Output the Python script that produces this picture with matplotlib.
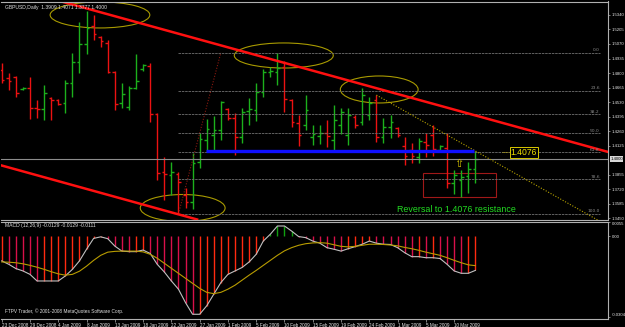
import numpy as np
import matplotlib.pyplot as plt
from matplotlib.patches import Ellipse, Rectangle

symbol_info = "GBPUSD,Daily  1.3909 1.4071 1.3777 1.4000"
macd_info = "MACD (12,26,9) -0.0129 -0.0129 -0.0111"
footer = "FTPV Trader, \u00a9 2001-2008 MetaQuotes Software Corp."
note = "Reversal to 1.4076 resistance"

# daily OHLC, GBPUSD 23 Dec 2008 .. 13 Mar 2009
opens = [1.4828, 1.4754, 1.4763, 1.4651, 1.4661, 1.4475, 1.4465, 1.4568, 1.4549, 1.4521,
         1.4707, 1.4902, 1.5070, 1.5237, 1.5135, 1.5079, 1.4809, 1.4521, 1.4484, 1.4661,
         1.4837, 1.4865, 1.4419, 1.3879, 1.3852, 1.3861, 1.3666, 1.3600, 1.3972, 1.4177,
         1.4224, 1.4270, 1.4465, 1.4382, 1.4205, 1.4447, 1.4456, 1.4623, 1.4809, 1.4809,
         1.4856, 1.4549, 1.4335, 1.4317, 1.4205, 1.4214, 1.4242, 1.4177, 1.4317, 1.4224,
         1.4391, 1.4344, 1.4410, 1.4549, 1.4205, 1.4298, 1.4289, 1.4121, 1.4084, 1.4019,
         1.4158, 1.4224, 1.4084, 1.4103, 1.3777, 1.3805, 1.3842, 1.3909]
highs = [1.4893, 1.4800, 1.4772, 1.4670, 1.4763, 1.4549, 1.4689, 1.4577, 1.4558, 1.4735,
         1.4986, 1.5274, 1.5377, 1.5340, 1.5144, 1.5107, 1.4819, 1.4707, 1.4679, 1.4977,
         1.4884, 1.4893, 1.4428, 1.4019, 1.3972, 1.3879, 1.3731, 1.4056, 1.4242, 1.4372,
         1.4400, 1.4540, 1.4475, 1.4428, 1.4475, 1.4568, 1.4707, 1.4837, 1.4856, 1.4986,
         1.4912, 1.4558, 1.4410, 1.4595, 1.4317, 1.4317, 1.4363, 1.4502, 1.4475, 1.4475,
         1.4410, 1.4661, 1.4577, 1.4595, 1.4382, 1.4410, 1.4298, 1.4205, 1.4149, 1.4196,
         1.4242, 1.4317, 1.4130, 1.4242, 1.3898, 1.3898, 1.3972, 1.4071]
lows = [1.4707, 1.4642, 1.4577, 1.4642, 1.4372, 1.4382, 1.4363, 1.4363, 1.4502, 1.4428,
        1.4577, 1.4800, 1.4977, 1.5107, 1.5042, 1.4800, 1.4456, 1.4475, 1.4456, 1.4651,
        1.4819, 1.4344, 1.3805, 1.3619, 1.3666, 1.3498, 1.3545, 1.3535, 1.3917, 1.4065,
        1.4065, 1.4177, 1.4363, 1.4037, 1.4149, 1.4317, 1.4354, 1.4577, 1.4763, 1.4689,
        1.4437, 1.4298, 1.4121, 1.4270, 1.4130, 1.4140, 1.4112, 1.4084, 1.4233, 1.4130,
        1.4289, 1.4317, 1.4363, 1.4158, 1.4149, 1.4196, 1.4205, 1.3944, 1.3963, 1.3963,
        1.4019, 1.4028, 1.4065, 1.3731, 1.3675, 1.3647, 1.3684, 1.3777]
closes = [1.4735, 1.4726, 1.4614, 1.4661, 1.4475, 1.4465, 1.4614, 1.4549, 1.4512, 1.4707,
          1.4902, 1.5070, 1.5219, 1.5163, 1.5098, 1.4809, 1.4512, 1.4605, 1.4661, 1.4726,
          1.4875, 1.4419, 1.3870, 1.3861, 1.3879, 1.3786, 1.3600, 1.3963, 1.4186, 1.4279,
          1.4270, 1.4530, 1.4382, 1.4205, 1.4437, 1.4465, 1.4623, 1.4809, 1.4819, 1.4847,
          1.4558, 1.4344, 1.4224, 1.4456, 1.4233, 1.4242, 1.4214, 1.4363, 1.4437, 1.4410,
          1.4317, 1.4595, 1.4521, 1.4205, 1.4298, 1.4344, 1.4224, 1.4028, 1.4028, 1.4168,
          1.4130, 1.4093, 1.4121, 1.3777, 1.3852, 1.3833, 1.3907, 1.4000]

macd_main = [-0.0093, -0.0106, -0.0122, -0.0131, -0.0144, -0.0169, -0.0169, -0.0169, -0.0169, -0.0150,
             -0.0125, -0.0093, -0.0049, -0.0008, -0.0002, -0.0009, -0.0037, -0.0056, -0.0058, -0.0058,
             -0.0052, -0.0065, -0.0106, -0.0135, -0.0169, -0.0200, -0.0251, -0.0295, -0.0295, -0.0263,
             -0.0219, -0.0175, -0.0144, -0.0131, -0.0118, -0.0097, -0.0068, -0.0018, 0.0008, 0.0039,
             0.0039, 0.0020, -0.0001, -0.0005, -0.0018, -0.0026, -0.0043, -0.0049, -0.0056, -0.0047,
             -0.0039, -0.0030, -0.0018, -0.0026, -0.0030, -0.0031, -0.0043, -0.0062, -0.0077, -0.0077,
             -0.0081, -0.0081, -0.0084, -0.0106, -0.0131, -0.0140, -0.0140, -0.0129]
macd_signal = [-0.0097, -0.0098, -0.0100, -0.0104, -0.0110, -0.0117, -0.0125, -0.0134, -0.0142, -0.0147,
               -0.0144, -0.0132, -0.0113, -0.0091, -0.0072, -0.0060, -0.0057, -0.0056, -0.0056, -0.0056,
               -0.0059, -0.0068, -0.0083, -0.0102, -0.0121, -0.0140, -0.0159, -0.0178, -0.0197, -0.0212,
               -0.0217, -0.0212, -0.0200, -0.0185, -0.0166, -0.0147, -0.0129, -0.0110, -0.0091, -0.0072,
               -0.0055, -0.0043, -0.0034, -0.0028, -0.0025, -0.0024, -0.0026, -0.0032, -0.0038, -0.0040,
               -0.0038, -0.0034, -0.0030, -0.0030, -0.0031, -0.0033, -0.0036, -0.0042, -0.0047, -0.0053,
               -0.0060, -0.0066, -0.0072, -0.0081, -0.0091, -0.0100, -0.0108, -0.0111]

date_labels = ["23 Dec 2008", "29 Dec 2008", "4 Jan 2009", "8 Jan 2009", "13 Jan 2009",
               "18 Jan 2009", "22 Jan 2009", "27 Jan 2009", "1 Feb 2009", "5 Feb 2009",
               "10 Feb 2009", "15 Feb 2009", "19 Feb 2009", "24 Feb 2009", "1 Mar 2009",
               "5 Mar 2009", "10 Mar 2009"]
price_ticks = [1.5340, 1.5205, 1.5070, 1.4935, 1.4800, 1.4665, 1.4530, 1.4395,
               1.4260, 1.4125, 1.3855, 1.3720, 1.3585, 1.3450]
macd_ticks = [0.0055, 0.0, -0.0304]
macd_tick_labels = ["0.0055", "0.00", "-0.0304"]

fib_high = 1.4990
fib_low = 1.3490
fib_levels = [0.0, 23.6, 38.2, 50.0, 61.8, 78.6, 100.0]
resistance = 1.4076
last_price = 1.4000

W, H = 625, 327
fig = plt.figure(figsize=(W / 100, H / 100), dpi=100, facecolor="black")
ax = fig.add_axes([0.5 / W, 1 - 219.5 / H, 607.5 / W, 218 / H], facecolor="black")
ax2 = fig.add_axes([0.5 / W, 1 - 318.5 / H, 607.5 / W, 97 / H], facecolor="black", sharex=ax)

x = np.arange(len(opens))
o, h, l, c = map(np.array, (opens, highs, lows, closes))
up = c >= o
cols = np.where(up, "#1cb01c", "#ec1212")

# OHLC bars
ax.vlines(x, l, h, colors=cols, lw=1.0)
ax.hlines(o, x - 0.38, x, colors=cols, lw=1.0)
ax.hlines(c, x, x + 0.38, colors=cols, lw=1.0)

ax.set_xlim(-0.17, 85.76)
ax.set_ylim(1.3438, 1.5465)

# fibonacci retracement
fib_end = 84.6
ax.plot([25, 31], [fib_low, fib_high], color="#8a1a10", lw=0.8, ls=(0, (1, 1.5)))
for lv in fib_levels:
    p = fib_high - lv / 100 * (fib_high - fib_low)
    ax.plot([25, fib_end], [p, p], color="#707070", lw=0.6, ls=(0, (3, 1)))
    ax.text(fib_end, p + 0.0006, f"{lv:.1f}", color="#8a8a8a", fontsize=3.2,
            ha="right", va="bottom")

# bid line
ax.axhline(last_price, color="#8c8c8c", lw=0.8)

# channel lines
ax.axline((9, 1.5455), (85, 1.4080), color="#ff1010", lw=1.8)
ax.axline((0, 1.3940), (25, 1.3486), color="#ff1010", lw=1.8)

# falling dotted trend line
ax.plot([53, 84.3], [1.4595, 1.3433], color="#b8a400", lw=0.8, ls=(0, (1, 1.5)))

# resistance
ax.plot([28.85, 66.8], [resistance, resistance], color="#1010ff", lw=2.4, solid_capstyle="butt")
ax.plot([70.8, 71.8], [resistance - 0.0012, resistance - 0.0012], color="#c8b400", lw=0.6,
        ls=(0, (1, 1)))
ax.text(72.0, resistance - 0.0012, "1.4076", color="#f0e000", fontsize=6.2, ha="left",
        va="center", family="Liberation Sans",
        bbox=dict(facecolor="black", edgecolor="#d8c800", lw=0.7, pad=0.6))

# ellipses
for cx, cy, ew, eh in [(13.9, 1.5340, 14.1, 0.0242), (39.9, 1.4963, 14.0, 0.0233),
                       (53.4, 1.4647, 11.0, 0.0251), (25.6, 1.3545, 12.0, 0.0251)]:
    ax.add_patch(Ellipse((cx, cy), ew, eh, fill=False, edgecolor="#a89a00", lw=0.8))

ax.add_patch(Rectangle((59.6, 1.3647), 10.3, 0.0223, fill=False, edgecolor="#a01818", lw=0.8))
ax.text(64.7, 1.3954, "\u21e7", color="#d8c400", fontsize=8, ha="center", va="center")
ax.text(55.9, 1.3535, note, color="#22dd22", fontsize=6.4, ha="left", va="center",
        family="Liberation Sans")
ax.text(0.4, 1.5412, symbol_info, color="#e0e0e0", fontsize=3.6, ha="left", va="center",
        family="Liberation Sans")

# MACD panel
m = np.array(macd_main)
prev = np.r_[m[0], m[:-1]]
hcols = np.where(m >= 0, "#10a010", np.where(m < prev, "#d8104a", "#ff2a10"))
ax2.vlines(x, 0, m, colors=hcols, lw=1.0)
ax2.plot(x, macd_main, color="#c0c0c0", lw=0.8)
ax2.plot(x, macd_signal, color="#b89c00", lw=0.8)
ax2.set_ylim(-0.0311, 0.0056)
ax2.text(0.4, 0.0040, macd_info, color="#e0e0e0", fontsize=3.6, ha="left", va="center",
         family="Liberation Sans")
ax2.text(0.4, -0.0283, footer, color="#e0e0e0", fontsize=3.4, ha="left", va="center",
         family="Liberation Sans")

# axes styling
for a in (ax, ax2):
    for s in a.spines.values():
        s.set_color("#b0b0b0")
        s.set_linewidth(0.8)
    a.spines["left"].set_visible(False)
    a.yaxis.tick_right()
    a.tick_params(axis="y", colors="#b0b0b0", labelcolor="#e8e8e8", labelsize=3.1,
                  length=1.5, width=0.5, pad=1.0)

ax.set_yticks(price_ticks)
ax.set_yticklabels([f"{p:.4f}" for p in price_ticks], family="Liberation Sans")
ax.text(1.0035, last_price, f"{last_price:.4f}", transform=ax.get_yaxis_transform(),
        color="black", fontsize=3.1, ha="left", va="center", family="Liberation Sans",
        bbox=dict(facecolor="#d8d8d8", edgecolor="none", pad=0.4))

ax2.set_yticks(macd_ticks)
ax2.set_yticklabels(macd_tick_labels, family="Liberation Sans")
labs = ax2.get_yticklabels()
labs[0].set_va("top")
labs[-1].set_va("bottom")

ax.tick_params(axis="x", bottom=False, labelbottom=False)
date_pos = np.arange(len(date_labels)) * 4
ax2.set_xticks(date_pos)
ax2.set_xticklabels(date_labels, ha="left", family="Liberation Sans")
ax2.tick_params(axis="x", colors="#b0b0b0", labelcolor="#e8e8e8", labelsize=3.3,
                length=2, width=0.5, pad=1)

fig.savefig("out.png", dpi=100, facecolor="black")
